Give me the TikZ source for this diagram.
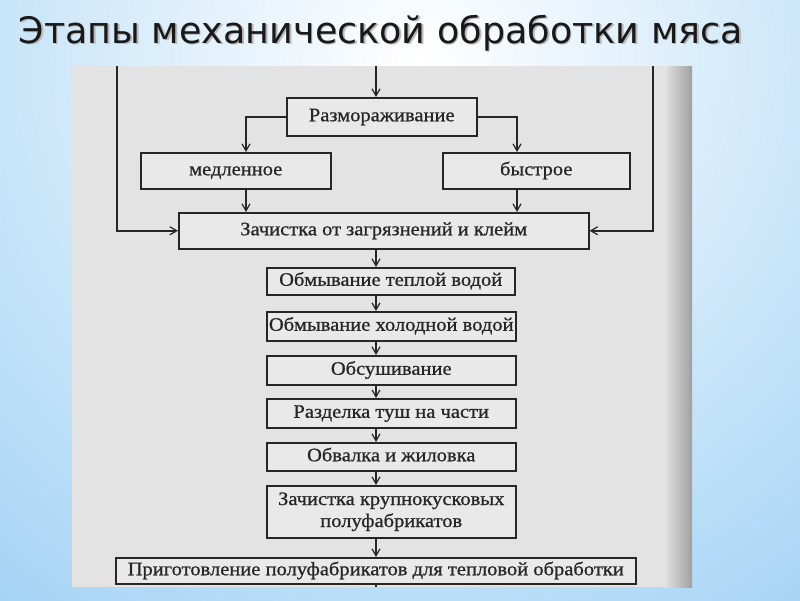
\documentclass[tikz,border=0pt]{standalone}
\usepackage{fontspec}
\setmainfont{Liberation Serif}
\newfontfamily\boxfont{Liberation Serif}[FakeStretch=1.08, FakeBold=0.8]
\newfontfamily\titlefont{DejaVu Sans}
\usetikzlibrary{arrows.meta}
\definecolor{bgblue}{HTML}{A3D3F5}
\definecolor{pagegrey}{HTML}{E3E3E3}
\definecolor{pagedark}{HTML}{A0A0A0}
\definecolor{ink}{HTML}{262626}
\definecolor{boxfill}{HTML}{E9E9E9}
\tikzset{
  stepbox/.style={draw=ink, line width=1.5pt, fill=boxfill, inner sep=0pt, anchor=north west,
    font=\boxfont\fontsize{19}{19}\selectfont, text=ink, align=center,
    text height=12.5pt, text depth=3.5pt},
  twoline/.style={text height={}, text depth={}, font=\boxfont\fontsize{19}{22}\selectfont},
  flow/.style={draw=ink, line width=1.5pt, -{Straight Barb[length=7pt,width=8pt,line width=1.2pt]}},
  plain/.style={draw=ink, line width=1.5pt},
}
\newcommand{\bx}[7][]{% opts, name, x1, y1, x2, y2, text
  \node[stepbox, minimum width=#5pt-#3pt, minimum height=#6pt-#4pt, #1] (#2) at (#3,#4) {#7};}
\begin{document}
\begin{tikzpicture}[x=1pt,y=-1pt]
\useasboundingbox (0,0) rectangle (800,600);
% background
\fill[bgblue] (0,0) rectangle (800,600);
\begin{scope}
\clip (0,0) rectangle (800,600);
\shade[inner color=white, outer color=bgblue] (420,60) circle (700);
\end{scope}
% title
\node[anchor=base west, font=\titlefont\fontsize{36.5}{40}\selectfont, text=gray!55] (tshadow) at (16.5,44.5) {Этапы механической обработки мяса};
\node[anchor=base west, font=\titlefont\fontsize{36.5}{40}\selectfont, text=black!90] (title) at (15,43) {Этапы механической обработки мяса};
% page
\fill[pagegrey] (72,66) rectangle (692,587);
\shade[left color=pagegrey, right color=pagedark] (664,66) rectangle (692,587);
% boxes
\bx{raz}{286}{97}{476}{135}{Размораживание}
\bx{med}{140}{152}{330}{188}{медленное}
\bx{bys}{442}{152}{629}{188}{быстрое}
\bx{zac}{178}{212}{588}{248}{Зачистка от загрязнений и клейм}
\bx{tep}{266}{267}{514}{294}{Обмывание теплой водой}
\bx{hol}{266}{311}{515}{340}{Обмывание холодной водой}
\bx{obs}{266}{355}{515}{384}{Обсушивание}
\bx{raz2}{266}{398}{515}{427}{Разделка туш на части}
\bx{obv}{266}{442}{515}{470}{Обвалка и жиловка}
\bx[twoline]{kru}{266}{485}{515}{537}{Зачистка крупнокусковых\\полуфабрикатов}
\bx{pri}{115}{557}{635}{583}{Приготовление полуфабрикатов для тепловой обработки}
% coordinates
\coordinate (ctop) at (376,66);
\coordinate (ltop) at (117,66);
\coordinate (rtop) at (653,66);
\coordinate (cbot) at (376,587);
\coordinate (lx) at (246,0);
\coordinate (rx) at (517,0);
\coordinate (cx) at (376,0);
% connectors
\draw[flow] (ctop) -- (raz.north -| ctop);
\draw[flow] (ltop) |- (zac.west);
\draw[flow] (rtop) |- (zac.east);
\draw[flow] (raz.west) -| (med.north -| lx);
\draw[flow] (raz.east) -| (bys.north -| rx);
\draw[flow] (med.south -| lx) -- (zac.north -| lx);
\draw[flow] (bys.south -| rx) -- (zac.north -| rx);
\draw[flow] (zac.south -| cx) -- (tep.north -| cx);
\draw[flow] (tep.south -| cx) -- (hol.north -| cx);
\draw[flow] (hol.south -| cx) -- (obs.north -| cx);
\draw[flow] (obs.south -| cx) -- (raz2.north -| cx);
\draw[flow] (raz2.south -| cx) -- (obv.north -| cx);
\draw[flow] (obv.south -| cx) -- (kru.north -| cx);
\draw[flow] (kru.south -| cx) -- (pri.north -| cx);
\draw[plain] (pri.south -| cx) -- (cbot);
\end{tikzpicture}
\end{document}
